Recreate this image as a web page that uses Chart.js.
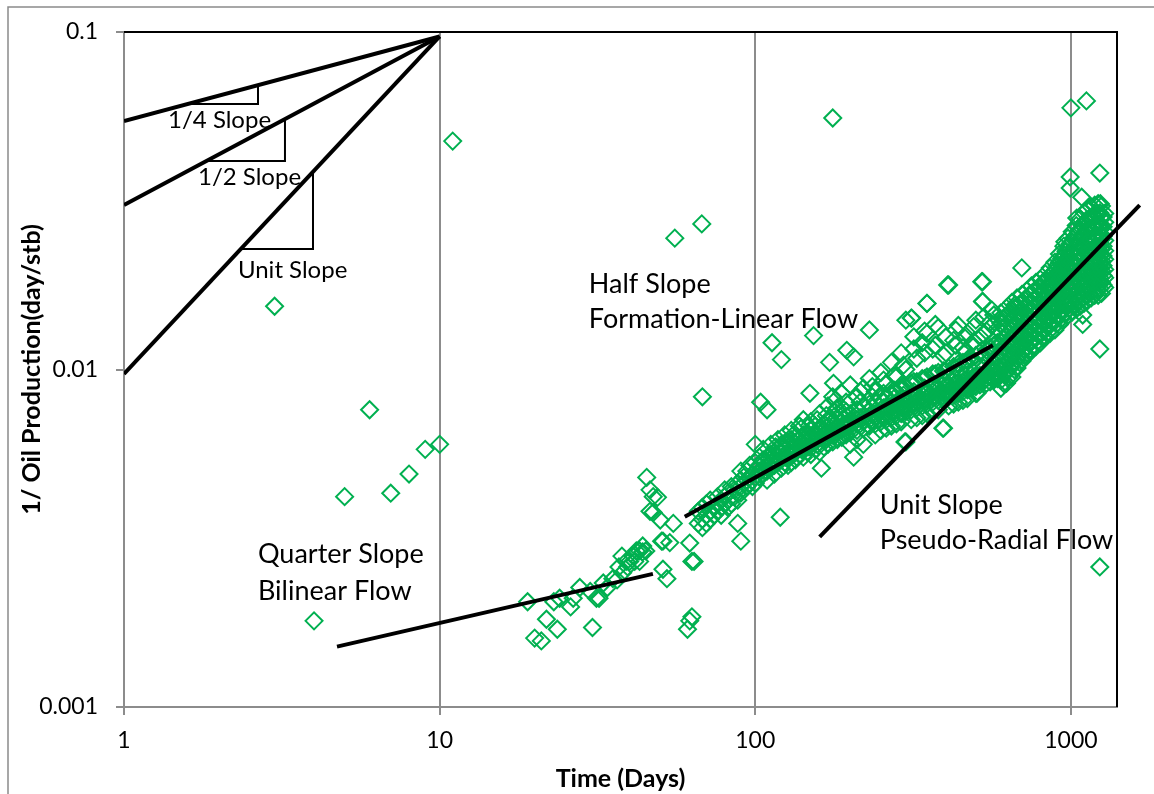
<!DOCTYPE html>
<html>
<head>
<meta charset="utf-8">
<script src="https://cdn.jsdelivr.net/npm/chart.js@4.4.0/dist/chart.umd.min.js"></script>
<style>
  html, body { margin: 0; padding: 0; background: #fff; }
  #wrap { width: 1154px; height: 794px; }
</style>
</head>
<body>
<div id="wrap"><canvas id="plot" width="1154" height="794"></canvas></div>
<script>
// axis ticks
const xTicks = [1, 10, 100, 1000];
const yTicks = [0.001, 0.01, 0.1];

// [days, 1/q]
const earlyPoints = [
    [3, 0.0154], [4, 0.0018], [5, 0.0042], [6, 0.0076], [7, 0.0043],
    [8, 0.0049], [9, 0.0058], [10, 0.006], [11, 0.0475]
];

const bilinearPoints = [
    [19, 0.00205], [20, 0.0016], [21, 0.00157], [21.8, 0.00182], [23, 0.00205], [23.6, 0.0017],
    [24, 0.0021], [26, 0.00198], [26.5, 0.0021], [27.8, 0.00226], [30, 0.0022], [30.5, 0.00172],
    [31.4, 0.0021], [32, 0.0021], [33, 0.00233], [34, 0.00226], [35.4, 0.0024], [36.5, 0.00238],
    [37, 0.0026], [37.8, 0.0028], [38, 0.0025], [39, 0.0027], [39.4, 0.0026], [40, 0.0027],
    [41, 0.0028], [41.5, 0.0027], [42, 0.0029], [43, 0.0027], [43, 0.0029], [44, 0.003],
    [44, 0.00288], [45, 0.0029], [45.3, 0.00479], [46.4, 0.0044], [46.4, 0.0038], [47.5, 0.0042],
    [47.5, 0.00377], [49, 0.00418], [50, 0.00358], [50.5, 0.0031], [51, 0.00256], [51, 0.0031],
    [52.5, 0.0024], [53.6, 0.00307], [55, 0.0035], [55.6, 0.0245], [61, 0.0017], [62, 0.0018],
    [62, 0.00306], [63, 0.00185], [63, 0.0027], [64, 0.0027]
];

// formation-linear part: [day, [values...]]
const linearCloud = [
    [66, [0.0035, 0.0038]], [68, [0.0036, 0.0039, 0.0034]], [70, [0.0037, 0.0040, 0.0035]],
    [72, [0.0038, 0.0036, 0.0041]], [74, [0.0039, 0.0037]], [76, [0.0040, 0.0038, 0.0042]],
    [78, [0.0039, 0.0041, 0.0037]], [80, [0.0042, 0.0040, 0.0044]], [82, [0.0041, 0.0043, 0.0039]],
    [84, [0.0042, 0.0045, 0.0040]], [86, [0.0044, 0.0042]], [88, [0.0043, 0.0046, 0.0041, 0.0035]],
    [90, [0.0045, 0.0047, 0.0043, 0.0050, 0.0031]], [92, [0.0046, 0.0044, 0.0048]],
    [94, [0.0047, 0.0045, 0.0050]], [96, [0.0046, 0.0048, 0.0052]], [98, [0.0049, 0.0047, 0.0045]],
    [100, [0.0048, 0.0050, 0.0053, 0.0046, 0.0060]], [103, [0.0050, 0.0052, 0.0048, 0.0055]],
    [104, [0.0080]], [106, [0.0051, 0.0049, 0.0054, 0.0058]], [107, [0.0053, 0.0050]],
    [109, [0.0052, 0.0055, 0.0050, 0.0047, 0.0076]],
    [112, [0.0053, 0.0051, 0.0056, 0.0060]], [113, [0.0120]], [115, [0.0054, 0.0057, 0.0052, 0.0049]],
    [116, [0.0056, 0.0053, 0.0059]], [118, [0.0055, 0.0053, 0.0058, 0.0062]], [120, [0.00365]],
    [121, [0.0054, 0.0057, 0.0060, 0.0051, 0.0107]], [124, [0.0056, 0.0059, 0.0053, 0.0064]],
    [125, [0.0058, 0.0055, 0.0061]], [127, [0.0057, 0.0055, 0.0061, 0.0052]],
    [130, [0.0058, 0.0056, 0.0062, 0.0066, 0.0053]], [132, [0.0059, 0.0061, 0.0056, 0.0064]],
    [134, [0.0057, 0.0060, 0.0063, 0.0054]], [138, [0.0059, 0.0062, 0.0056, 0.0068]],
    [140, [0.0061, 0.0058, 0.0063, 0.0067]], [142, [0.0060, 0.0058, 0.0064, 0.0055, 0.0071]],
    [146, [0.0061, 0.0059, 0.0065, 0.0057]], [148, [0.0062, 0.0064, 0.0059, 0.0068]], [149, [0.0085]],
    [150, [0.0062, 0.0060, 0.0066, 0.0070, 0.0056]], [153, [0.0126]], [155, [0.0061, 0.0064, 0.0068, 0.0058]],
    [157, [0.0063, 0.0066, 0.0060, 0.0071]], [160, [0.0063, 0.0061, 0.0067, 0.0074, 0.0057]],
    [162, [0.0051]], [165, [0.0064, 0.0062, 0.0069, 0.0059]], [168, [0.0065, 0.0067, 0.0062, 0.0073]],
    [170, [0.0065, 0.0063, 0.0071, 0.0078, 0.0060]], [172, [0.0105]],
    [176, [0.0066, 0.0064, 0.0070, 0.0061, 0.0083]], [177, [0.0091]],
    [179, [0.0067, 0.0069, 0.0064, 0.0075, 0.0081]], [182, [0.0067, 0.0065, 0.0072, 0.0062, 0.0077]],
    [188, [0.0068, 0.0066, 0.0073, 0.0063, 0.0085]], [191, [0.0068, 0.0071, 0.0065, 0.0076]],
    [194, [0.0069, 0.0067, 0.0075, 0.0064, 0.0080]], [195, [0.0114]],
    [200, [0.0070, 0.0068, 0.0074, 0.0065, 0.0090, 0.0060]], [205, [0.0109, 0.0055]],
    [210, [0.0071, 0.0069, 0.0076, 0.0066, 0.0083, 0.0062]], [215, [0.0072, 0.0075, 0.0069, 0.0080, 0.0086]],
    [220, [0.0072, 0.0070, 0.0078, 0.0067, 0.0088, 0.0060]], [230, [0.0073, 0.0071, 0.0079, 0.0068, 0.0131, 0.0094]],
    [235, [0.0074, 0.0077, 0.0071, 0.0083, 0.0089]], [240, [0.0074, 0.0072, 0.0080, 0.0069, 0.0086, 0.0064]],
    [250, [0.0076, 0.0073, 0.0082, 0.0070, 0.0098, 0.0066]], [255, [0.0077, 0.0080, 0.0073, 0.0085, 0.0093]],
    [260, [0.0077, 0.0074, 0.0083, 0.0071, 0.0091, 0.0067]], [270, [0.0078, 0.0075, 0.0085, 0.0072, 0.0105, 0.0068]],
    [275, [0.0079, 0.0082, 0.0075, 0.0087, 0.0096]], [280, [0.0079, 0.0076, 0.0086, 0.0073, 0.0095, 0.0069]],
    [290, [0.0080, 0.0077, 0.0088, 0.0074, 0.0112, 0.0070]], [295, [0.0081, 0.0084, 0.0077, 0.0090, 0.0103]],
    [300, [0.0081, 0.0078, 0.0089, 0.0075, 0.0140, 0.0061, 0.0100]],
    [312, [0.0082, 0.0079, 0.0091, 0.0076, 0.0142, 0.0071]], [318, [0.0083, 0.0086, 0.0079, 0.0092, 0.0115, 0.0125]],
    [325, [0.0083, 0.0080, 0.0092, 0.0077, 0.0108, 0.0072]], [338, [0.0084, 0.0081, 0.0094, 0.0078, 0.0120, 0.0073]],
    [344, [0.0085, 0.0088, 0.0081, 0.0094, 0.0112, 0.0130]],
    [350, [0.0085, 0.0082, 0.0095, 0.0079, 0.0157, 0.0074, 0.0128]],
    [365, [0.0086, 0.0083, 0.0097, 0.0080, 0.0115, 0.0075]], [372, [0.0087, 0.0090, 0.0083, 0.0097, 0.0118, 0.0136]],
    [380, [0.0087, 0.0084, 0.0098, 0.0081, 0.0133, 0.0076]], [395, [0.0088, 0.0085, 0.0099, 0.0082, 0.0067, 0.0110]],
    [402, [0.0089, 0.0092, 0.0085, 0.0099, 0.0112, 0.0125]], [410, [0.0089, 0.0086, 0.0101, 0.0083, 0.0178, 0.0078]],
    [425, [0.0090, 0.0087, 0.0102, 0.0084, 0.0122, 0.0079]], [432, [0.0091, 0.0094, 0.0087, 0.0101, 0.0118, 0.0131]],
    [440, [0.0091, 0.0088, 0.0104, 0.0085, 0.0135, 0.0080]], [455, [0.0092, 0.0089, 0.0105, 0.0086, 0.0116, 0.0081]],
    [462, [0.0093, 0.0096, 0.0089, 0.0104, 0.0113, 0.0124]], [470, [0.0093, 0.0090, 0.0107, 0.0087, 0.0128, 0.0082]],
    [485, [0.0094, 0.0091, 0.0108, 0.0088, 0.0119]], [492, [0.0095, 0.0098, 0.0091, 0.0106, 0.0121, 0.0134]],
    [500, [0.0095, 0.0092, 0.0110, 0.0089, 0.0085, 0.0140]], [515, [0.0096, 0.0093, 0.0112, 0.0090, 0.0125]],
    [525, [0.0182, 0.0159]], [530, [0.0097, 0.0101, 0.0093, 0.0110, 0.0127, 0.0143]],
    [540, [0.0097, 0.0094, 0.0114, 0.0091, 0.0130]], [555, [0.0099, 0.0095, 0.0116, 0.0092, 0.0138]],
    [562, [0.0100, 0.0104, 0.0095, 0.0113, 0.0135, 0.0150]], [570, [0.0100, 0.0096, 0.0118, 0.0093, 0.0145]],
    [585, [0.0101, 0.0097, 0.0120, 0.0094, 0.0132]], [592, [0.0102, 0.0106, 0.0097, 0.0117, 0.0140]]
];

// pseudo-radial part, dense band
const radialCloud = [
    [600, [0.0088, 0.0093, 0.0100, 0.0107, 0.0113, 0.0120, 0.0129, 0.0137, 0.0147]],
    [612, [0.0091, 0.0097, 0.0103, 0.0110, 0.0117, 0.0124, 0.0133, 0.0142]],
    [625, [0.0091, 0.0098, 0.0104, 0.0111, 0.0119, 0.0126, 0.0135, 0.0144, 0.0152]],
    [637, [0.0095, 0.0101, 0.0107, 0.0114, 0.0121, 0.0129, 0.0138, 0.0147]],
    [650, [0.0095, 0.0102, 0.0108, 0.0116, 0.0122, 0.0131, 0.0140, 0.0149, 0.0158]],
    [662, [0.0100, 0.0106, 0.0112, 0.0119, 0.0126, 0.0134, 0.0143, 0.0152]],
    [675, [0.0101, 0.0107, 0.0114, 0.0121, 0.0128, 0.0135, 0.0145, 0.0154, 0.0163]],
    [687, [0.0105, 0.0110, 0.0117, 0.0124, 0.0131, 0.0138, 0.0147, 0.0156]],
    [700, [0.0106, 0.0112, 0.0118, 0.0126, 0.0134, 0.0141, 0.0150, 0.0158, 0.0167]],
    [712, [0.0110, 0.0115, 0.0122, 0.0129, 0.0136, 0.0144, 0.0152, 0.0161]],
    [725, [0.0110, 0.0117, 0.0123, 0.0130, 0.0138, 0.0146, 0.0154, 0.0162, 0.0171]],
    [737, [0.0114, 0.0120, 0.0126, 0.0133, 0.0141, 0.0149, 0.0157, 0.0166]],
    [750, [0.0114, 0.0121, 0.0127, 0.0135, 0.0142, 0.0151, 0.0158, 0.0168, 0.0177]],
    [762, [0.0118, 0.0124, 0.0130, 0.0137, 0.0145, 0.0153, 0.0161, 0.0170]],
    [775, [0.0117, 0.0124, 0.0131, 0.0138, 0.0146, 0.0153, 0.0162, 0.0172, 0.0181]],
    [787, [0.0121, 0.0127, 0.0134, 0.0141, 0.0149, 0.0157, 0.0166, 0.0175]],
    [800, [0.0120, 0.0127, 0.0135, 0.0141, 0.0150, 0.0157, 0.0167, 0.0175, 0.0185]],
    [815, [0.0124, 0.0131, 0.0138, 0.0145, 0.0153, 0.0161, 0.0170, 0.0180]],
    [830, [0.0125, 0.0131, 0.0139, 0.0148, 0.0155, 0.0164, 0.0172, 0.0183, 0.0192]],
    [845, [0.0129, 0.0136, 0.0143, 0.0151, 0.0159, 0.0168, 0.0177, 0.0187]],
    [860, [0.0128, 0.0136, 0.0143, 0.0152, 0.0160, 0.0170, 0.0179, 0.0190, 0.0200]],
    [875, [0.0133, 0.0140, 0.0147, 0.0155, 0.0164, 0.0173, 0.0183, 0.0193]],
    [890, [0.0131, 0.0139, 0.0148, 0.0156, 0.0166, 0.0175, 0.0186, 0.0196, 0.0208]],
    [905, [0.0137, 0.0145, 0.0153, 0.0162, 0.0171, 0.0181, 0.0192, 0.0203]],
    [920, [0.0136, 0.0145, 0.0153, 0.0164, 0.0173, 0.0185, 0.0195, 0.0208, 0.0220]],
    [935, [0.0142, 0.0150, 0.0159, 0.0169, 0.0179, 0.0190, 0.0201, 0.0213]],
    [950, [0.0141, 0.0150, 0.0161, 0.0170, 0.0182, 0.0192, 0.0206, 0.0218, 0.0232]],
    [965, [0.0148, 0.0157, 0.0167, 0.0177, 0.0188, 0.0199, 0.0211, 0.0224]],
    [980, [0.0145, 0.0156, 0.0165, 0.0178, 0.0189, 0.0203, 0.0215, 0.0231, 0.0245]],
    [995, [0.0152, 0.0162, 0.0172, 0.0183, 0.0195, 0.0208, 0.0221, 0.0236]],
    [1010, [0.0148, 0.0158, 0.0171, 0.0182, 0.0196, 0.0209, 0.0224, 0.0239, 0.0256]],
    [1025, [0.0155, 0.0165, 0.0176, 0.0188, 0.0201, 0.0215, 0.0230, 0.0246]],
    [1040, [0.0151, 0.0163, 0.0174, 0.0188, 0.0201, 0.0217, 0.0232, 0.0250, 0.0267]],
    [1055, [0.0158, 0.0169, 0.0181, 0.0194, 0.0208, 0.0223, 0.0239, 0.0256]],
    [1070, [0.0154, 0.0166, 0.0180, 0.0193, 0.0209, 0.0224, 0.0243, 0.0260, 0.0280]],
    [1085, [0.0162, 0.0174, 0.0187, 0.0201, 0.0216, 0.0232, 0.0249, 0.0268]],
    [1100, [0.0157, 0.0171, 0.0183, 0.0199, 0.0214, 0.0233, 0.0250, 0.0272, 0.0292]],
    [1115, [0.0165, 0.0177, 0.0191, 0.0205, 0.0221, 0.0238, 0.0256, 0.0276]],
    [1130, [0.0160, 0.0173, 0.0188, 0.0202, 0.0219, 0.0236, 0.0256, 0.0276, 0.0298]],
    [1145, [0.0168, 0.0181, 0.0194, 0.0209, 0.0225, 0.0242, 0.0261, 0.0281]],
    [1160, [0.0163, 0.0177, 0.0190, 0.0207, 0.0222, 0.0241, 0.0260, 0.0282, 0.0303]],
    [1175, [0.0171, 0.0184, 0.0198, 0.0213, 0.0229, 0.0247, 0.0266, 0.0286]],
    [1190, [0.0166, 0.0179, 0.0195, 0.0209, 0.0227, 0.0244, 0.0264, 0.0284, 0.0307]],
    [1205, [0.0172, 0.0186, 0.0200, 0.0216, 0.0232, 0.0250, 0.0269, 0.0290]],
    [1220, [0.0166, 0.0181, 0.0194, 0.0211, 0.0227, 0.0246, 0.0265, 0.0288, 0.0310]],
    [1235, [0.0174, 0.0187, 0.0201, 0.0217, 0.0233, 0.0251, 0.0270, 0.0291]],
    [1250, [0.0168, 0.0181, 0.0196, 0.0210, 0.0227, 0.0243, 0.0263, 0.0283, 0.0305]],
    [1265, [0.0178, 0.0190, 0.0203, 0.0217, 0.0232, 0.0248, 0.0265, 0.0283]],
    [1280, [0.0175, 0.0187, 0.0198, 0.0212, 0.0225, 0.0241, 0.0256, 0.0273, 0.0290]]
];

const latePoints = [
    [67.7, 0.027], [68, 0.0083], [176, 0.0556], [1000, 0.0596], [1120, 0.0625],
    [995, 0.0372], [1235, 0.0382], [995, 0.0345], [1082, 0.0324], [1240, 0.031],
    [1044, 0.0281], [957, 0.0239], [699, 0.02], [407, 0.0178], [522, 0.0182],
    [525, 0.0159], [350, 0.0157], [313, 0.0142], [664, 0.0155], [393, 0.0067],
    [298, 0.0061], [504, 0.0085], [1090, 0.0145], [1090, 0.0136], [1235, 0.0115],
    [1235, 0.0026]
];

// reference slopes from the upper-left corner
const quarterRef = [[1, 0.0545], [10, 0.097]];
const halfRef = [[1, 0.0307], [10, 0.097]];
const unitRef = [[1, 0.0097], [10, 0.097]];
const quarterTri = [[1.55, 0.0612], [2.658, 0.0612], [2.658, 0.0696]];
const halfTri = [[1.826, 0.0415], [3.236, 0.0415], [3.236, 0.0552]];
const unitTri = [[2.345, 0.02275], [3.97, 0.02275], [3.97, 0.0385]];

// flow regime fits
const bilinearFit = [[4.73, 0.00151], [47.4, 0.00248]];
const linearFit = [[59.8, 0.00366], [566, 0.0118]];
const radialFit = [[160, 0.00319], [1652, 0.0307]];

// labels: [text, day, value, size]
const notes = [
    ["1/4 Slope", 1.379, 0.0519, 24],
    ["1/2 Slope", 1.716, 0.0352, 24],
    ["Unit Slope", 2.296, 0.01867, 24],
    ["Half Slope", 29.7, 0.01685, 27],
    ["Formation-Linear Flow", 29.7, 0.01327, 27],
    ["Unit Slope", 248, 0.00373, 27],
    ["Pseudo-Radial Flow", 248, 0.00294, 27],
    ["Quarter Slope", 2.657, 0.002673, 27],
    ["Bilinear Flow", 2.657, 0.002075, 27]
];

const toXY = pts => pts.map(p => ({ x: p[0], y: p[1] }));
const fromCols = cols => cols.flatMap(c => c[1].map(v => ({ x: c[0], y: v })));

const green = "#00b050";
const scatterData = [
    ...toXY(earlyPoints), ...toXY(bilinearPoints), ...fromCols(linearCloud),
    ...fromCols(radialCloud), ...toXY(latePoints)
];

function lineSet(pts, width, clip) {
    const ds = {
        data: toXY(pts),
        showLine: true,
        borderColor: "#000",
        borderWidth: width,
        pointRadius: 0,
        fill: false,
        order: 0
    };
    if (clip === false) ds.clip = false;
    return ds;
}

const decor = {
    id: "decor",
    beforeDraw(chart) {
        const ctx = chart.ctx;
        ctx.save();
        ctx.fillStyle = "#fff";
        ctx.fillRect(0, 0, chart.width, chart.height);
        ctx.strokeStyle = "#8a8a8a";
        ctx.lineWidth = 1.5;
        ctx.beginPath();
        ctx.moveTo(8, chart.height);
        ctx.lineTo(8, 7);
        ctx.lineTo(chart.width, 7);
        ctx.stroke();
        ctx.restore();
    },
    afterDatasetsDraw(chart) {
        const ctx = chart.ctx;
        const a = chart.chartArea;
        const sx = chart.scales.x, sy = chart.scales.y;
        ctx.save();
        ctx.strokeStyle = "#000";
        ctx.lineWidth = 2;
        ctx.beginPath();
        ctx.moveTo(a.left, a.top);
        ctx.lineTo(a.right, a.top);
        ctx.lineTo(a.right, a.bottom);
        ctx.stroke();
        ctx.fillStyle = "#000";
        ctx.textAlign = "left";
        ctx.textBaseline = "alphabetic";
        notes.forEach(n => {
            ctx.font = n[3] + "px Lato";
            ctx.fillText(n[0], sx.getPixelForValue(n[1]), sy.getPixelForValue(n[2]));
        });
        ctx.restore();
    }
};

new Chart(document.getElementById("plot"), {
    type: "scatter",
    data: {
        datasets: [
            lineSet(quarterRef, 4), lineSet(halfRef, 4), lineSet(unitRef, 4),
            lineSet(quarterTri, 2), lineSet(halfTri, 2), lineSet(unitTri, 2),
            lineSet(bilinearFit, 4), lineSet(linearFit, 4), lineSet(radialFit, 4, false),
            {
                data: scatterData,
                pointStyle: "rectRot",
                pointRadius: 8.5,
                borderColor: green,
                backgroundColor: "rgba(0,0,0,0)",
                borderWidth: 2,
                order: 1
            }
        ]
    },
    options: {
        responsive: false,
        animation: false,
        events: [],
        layout: { padding: { top: 32, right: 37, left: 0, bottom: 0 } },
        plugins: { legend: { display: false }, tooltip: { enabled: false } },
        scales: {
            x: {
                type: "logarithmic",
                min: 1,
                max: 1400,
                afterBuildTicks: s => { s.ticks = xTicks.map(v => ({ value: v })); },
                afterFit: s => { s.height = 87; },
                ticks: {
                    callback: v => String(v),
                    font: { family: "Lato", size: 23 },
                    color: "#000",
                    padding: 12,
                    maxRotation: 0,
                    autoSkip: false
                },
                grid: { color: "#8c8c8c", lineWidth: 2, tickLength: 8 },
                border: { color: "#8c8c8c", width: 2 },
                title: {
                    display: true,
                    text: "Time (Days)",
                    font: { family: "Lato", size: 25, weight: "bold" },
                    color: "#000",
                    padding: { top: 0, bottom: 0 }
                }
            },
            y: {
                type: "logarithmic",
                min: 0.001,
                max: 0.1,
                afterBuildTicks: s => { s.ticks = yTicks.map(v => ({ value: v })); },
                afterFit: s => { s.width = 124; },
                ticks: {
                    callback: v => String(v),
                    font: { family: "Lato", size: 23 },
                    color: "#000",
                    padding: 18
                },
                grid: { drawOnChartArea: false, color: "#8c8c8c", lineWidth: 2, tickLength: 8 },
                border: { color: "#8c8c8c", width: 2 },
                title: {
                    display: true,
                    text: "1/ Oil Production(day/stb)",
                    font: { family: "Lato", size: 25, weight: "bold" },
                    color: "#000",
                    padding: { top: 17, bottom: 0 }
                }
            }
        }
    },
    plugins: [decor]
});
</script>
</body>
</html>
